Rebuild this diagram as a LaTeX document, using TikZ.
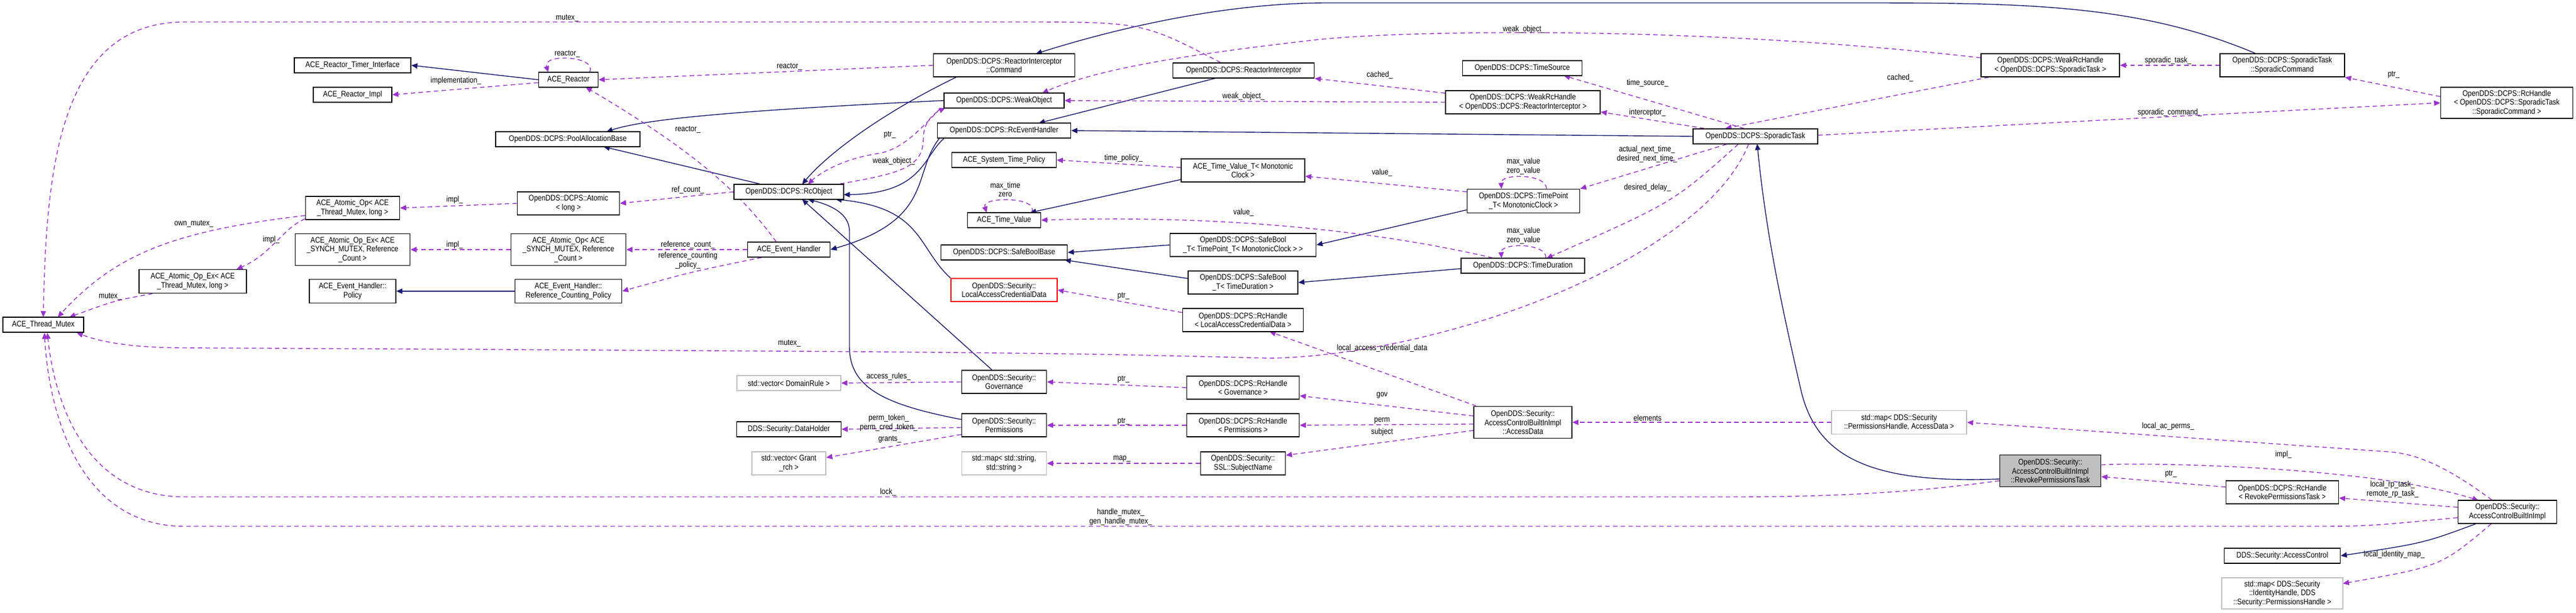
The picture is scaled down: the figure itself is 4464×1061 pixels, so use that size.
\documentclass[tikz,border=0pt]{standalone}
\usepackage{fontspec}
\setmainfont{Liberation Sans}[FakeStretch=0.85]
\usetikzlibrary{arrows.meta}
\pgfdeclarelayer{bg}
\pgfsetlayers{bg,main}
\definecolor{inh}{RGB}{25,25,112}
\definecolor{usg}{RGB}{154,50,205}
\definecolor{gbrd}{RGB}{191,191,191}
\tikzset{
  box/.style={draw=black,line width=0.45pt,fill=white,align=center,inner sep=0pt,font=\fontsize{4}{4.4}\selectfont},
  gbox/.style={box,draw=gbrd},
  lbl/.style={font=\fontsize{4}{4.4}\selectfont,align=center,inner sep=0pt},
  inhe/.style={draw=inh,line width=0.4pt,-{Triangle[length=3pt,width=2.6pt]}},
  useb/.style={draw=usg,line width=0.4pt,dash pattern=on 2.2pt off 1.6pt,-{Triangle[length=3pt,width=2.6pt]}},
}
\newcommand\NB[7][]{\node[box,#1,minimum width=#5*0.01cm,minimum height=#6*0.01cm] (#2) at (#3,#4) {#7};}
\newcommand\Sh[3]{([shift={(#1,#2)}]#3)}
\begin{document}
\begin{tikzpicture}[x=0.01cm,y=-0.01cm]
\useasboundingbox (0,0) rectangle (4464,1061);
% nodes
\NB{timer}{611}{113}{202}{26}{ACE\_Reactor\_Timer\_Interface}
\NB{rimpl}{611}{164}{136}{26}{ACE\_Reactor\_Impl}
\NB{aoptm}{611}{360}{163}{40}{ACE\_Atomic\_Op< ACE\\\_Thread\_Mutex, long >}
\NB{aoexsm}{611}{432}{199}{55}{ACE\_Atomic\_Op\_Ex< ACE\\\_SYNCH\_MUTEX, Reference\\\_Count >}
\NB{policy}{611}{504}{150}{41}{ACE\_Event\_Handler::\\Policy}
\NB{aoextm}{334}{487}{186}{41}{ACE\_Atomic\_Op\_Ex< ACE\\\_Thread\_Mutex, long >}
\NB{tmutex}{75}{562}{140}{26}{ACE\_Thread\_Mutex}
\NB{reactor}{985}{138}{103}{26}{ACE\_Reactor}
\NB{pool}{984}{241}{250}{26}{OpenDDS::DCPS::PoolAllocationBase}
\NB{atomic}{985}{352}{177}{40}{OpenDDS::DCPS::Atomic\\< long >}
\NB{rcobj}{1367}{332}{190}{26}{OpenDDS::DCPS::RcObject}
\NB{aopsm}{985}{432}{199}{55}{ACE\_Atomic\_Op< ACE\\\_SYNCH\_MUTEX, Reference\\\_Count >}
\NB{evh}{1367}{432}{143}{26}{ACE\_Event\_Handler}
\NB{rcp}{985}{504}{185}{41}{ACE\_Event\_Handler::\\Reference\_Counting\_Policy}
\NB{cmd}{1740}{113}{245}{40}{OpenDDS::DCPS::ReactorInterceptor\\::Command}
\NB{weak}{1740}{174}{208}{26}{OpenDDS::DCPS::WeakObject}
\NB{rceh}{1740}{226}{231}{26}{OpenDDS::DCPS::RcEventHandler}
\NB{stp}{1740}{277}{181}{26}{ACE\_System\_Time\_Policy}
\NB{atv}{1740}{381}{127}{26}{ACE\_Time\_Value}
\NB{sbb}{1740}{437}{219}{26}{OpenDDS::DCPS::SafeBoolBase}
\NB[draw=red]{lacd}{1740}{502}{184}{40}{OpenDDS::Security::\\LocalAccessCredentialData}
\NB{ri}{2155}{122}{245}{26}{OpenDDS::DCPS::ReactorInterceptor}
\NB{tvt}{2154}{295}{214}{40}{ACE\_Time\_Value\_T< Monotonic\\Clock >}
\NB{sbtp}{2154}{424}{253}{40}{OpenDDS::DCPS::SafeBool\\\_T< TimePoint\_T< MonotonicClock > >}
\NB{sbtd}{2154}{489}{190}{40}{OpenDDS::DCPS::SafeBool\\\_T< TimeDuration >}
\NB{rhlacd}{2154}{554}{209}{40}{OpenDDS::DCPS::RcHandle\\< LocalAccessCredentialData >}
\NB{gov}{1740}{661}{147}{40}{OpenDDS::Security::\\Governance}
\NB{perm}{1740}{736}{147}{40}{OpenDDS::Security::\\Permissions}
\NB[gbox]{mapss}{1740}{802}{147}{40}{std::map< std::string,\\std::string >}
\NB{rhgov}{2154}{671}{195}{40}{OpenDDS::DCPS::RcHandle\\< Governance >}
\NB{rhperm}{2154}{736}{195}{40}{OpenDDS::DCPS::RcHandle\\< Permissions >}
\NB{subj}{2154}{802}{147}{40}{OpenDDS::Security::\\SSL::SubjectName}
\NB[gbox]{vdr}{1367}{663}{180}{26}{std::vector< DomainRule >}
\NB{dh}{1367}{743}{181}{26}{DDS::Security::DataHolder}
\NB[gbox]{vgr}{1367}{802}{128}{40}{std::vector< Grant\\\_rch >}
\NB{ts}{2638}{118}{207}{26}{OpenDDS::DCPS::TimeSource}
\NB{wrhri}{2639}{177}{268}{40}{OpenDDS::DCPS::WeakRcHandle\\< OpenDDS::DCPS::ReactorInterceptor >}
\NB{st}{3042}{236}{216}{26}{OpenDDS::DCPS::SporadicTask}
\NB{tp}{2640}{348}{195}{41}{OpenDDS::DCPS::TimePoint\\\_T< MonotonicClock >}
\NB{td}{2639}{460}{214}{26}{OpenDDS::DCPS::TimeDuration}
\NB{ad}{2639}{731}{170}{55}{OpenDDS::Security::\\AccessControlBuiltInImpl\\::AccessData}
\NB{wrhst}{3553}{113}{240}{40}{OpenDDS::DCPS::WeakRcHandle\\< OpenDDS::DCPS::SporadicTask >}
\NB[gbox]{mappa}{3291}{731}{234}{41}{std::map< DDS::Security\\::PermissionsHandle, AccessData >}
\NB[fill=gbrd]{rpt}{3553}{815}{175}{55}{OpenDDS::Security::\\AccessControlBuiltInImpl\\::RevokePermissionsTask}
\NB{sc}{3955}{113}{216}{40}{OpenDDS::DCPS::SporadicTask\\::SporadicCommand}
\NB{rhsc}{4344}{178}{229}{54}{OpenDDS::DCPS::RcHandle\\< OpenDDS::DCPS::SporadicTask\\::SporadicCommand >}
\NB{rhrpt}{3955}{852}{195}{40}{OpenDDS::DCPS::RcHandle\\< RevokePermissionsTask >}
\NB{acbi}{4345}{886}{171}{40}{OpenDDS::Security::\\AccessControlBuiltInImpl}
\NB{ac}{3955}{962}{201}{26}{DDS::Security::AccessControl}
\NB[gbox]{mapih}{3955}{1027}{210}{54}{std::map< DDS::Security\\::IdentityHandle, DDS\\::Security::PermissionsHandle >}
\begin{pgfonlayer}{bg}
% inheritance
\draw[inhe] (reactor.west) -- (timer.east);
\draw[inhe] \Sh{45}{0}{rcobj.north west} -- (1046,254);
\draw[inhe] (weak.west) .. controls (1300,190) and (1120,205) .. (1051,228);
\draw[inhe] \Sh{40}{0}{cmd.south west} .. controls (1540,190) and (1440,260) .. (1390,319);
\draw[inhe] \Sh{12}{0}{rceh.south west} .. controls (1600,270) and (1600,335) .. (1462,337);
\draw[inhe] \Sh{4}{0}{rceh.south west} .. controls (1580,300) and (1620,380) .. (evh.east);
\draw[inhe] (lacd.north west) .. controls (1590,430) and (1600,360) .. (1448,345);
\draw[inhe] \Sh{-21}{0}{gov.north} -- (1390,345);
\draw[inhe] \Sh{0}{-10}{perm.west} .. controls (1530,700) and (1472,670) .. (1472,600) -- (1472,400) .. controls (1472,370) and (1440,355) .. (1400,345);
\draw[inhe] (st.west) -- (rceh.east);
\draw[inhe] \Sh{-50}{0}{ri.south} -- (1800,213);
\draw[inhe] \Sh{-47}{0}{sc.north} .. controls (3700,5) and (3500,5) .. (3200,5) -- (2300,5) .. controls (2100,5) and (1900,60) .. (1795,93);
\draw[inhe] \Sh{0}{14}{rpt.west} .. controls (3240,838) and (3150,790) .. (3122,680) .. controls (3085,520) and (3060,400) .. (3045,249);
\draw[inhe] \Sh{-55}{0}{acbi.south} .. controls (4200,940) .. (ac.east);
\draw[inhe] (rcp.west) -- (policy.east);
\draw[inhe] \Sh{0}{-5}{tvt.south west} -- (1785,368);
\draw[inhe] (sbtp.west) -- (sbb.east);
\draw[inhe] \Sh{0}{-7}{sbtd.west} -- (1845,450);
\draw[inhe] \Sh{0}{-6}{tp.south west} -- (sbtp.east);
\draw[inhe] \Sh{0}{5}{td.west} -- (sbtd.east);
% usage
\draw[useb] \Sh{-40}{0}{ri.north} .. controls (1980,38) .. (1760,38) -- (320,38) .. controls (100,38) and (80,300) .. (75,549);
\draw[useb] \Sh{0}{13}{aoptm.west} .. controls (300,400) and (200,440) .. (100,549);
\draw[useb] \Sh{24}{0}{aoextm.south west} .. controls (200,520) .. (120,549);
\draw[useb] \Sh{0}{-2}{aoptm.south west} .. controls (490,395) and (470,440) .. (410,466);
\draw[useb] \Sh{-12}{0}{st.south} .. controls (2950,450) and (2500,615) .. (2200,620) .. controls (1800,610) .. (320,602) .. controls (220,602) and (170,590) .. (133,576);
\draw[useb] \Sh{0}{17}{rpt.west} .. controls (3300,855) and (3150,860) .. (3000,860) -- (320,860) .. controls (150,860) and (95,700) .. (82,576);
\draw[useb] \Sh{0}{10}{acbi.west} .. controls (4100,911) .. (4000,911) -- (320,911) .. controls (140,911) and (85,720) .. (77,576);
\draw[useb] (rcobj.west) -- (atomic.east);
\draw[useb] (atomic.west) -- (aoptm.east);
\draw[useb] (aopsm.west) -- (aoexsm.east);
\draw[useb] (evh.west) -- (aopsm.east);
\draw[useb] \Sh{25}{0}{evh.south west} .. controls (1200,470) .. (rcp.east);
\draw[useb] \Sh{-22}{0}{evh.north} .. controls (1280,330) and (1200,260) .. (1015,151);
\draw[useb] (cmd.west) -- (reactor.east);
\draw[useb] \Sh{37}{0}{reactor.north} .. controls (1035,97) and (940,92) .. (950,125);
\draw[useb] \Sh{0}{5}{reactor.west} -- (rimpl.east);
\draw[useb] \Sh{-7}{0}{rcobj.north east} .. controls (1560,300) and (1600,290) .. (1600,240) .. controls (1600,210) and (1620,195) .. (1638,187);
\draw[useb] \Sh{-6}{0}{weak.south west} .. controls (1590,230) and (1560,260) .. (1520,266) .. controls (1460,275) and (1420,300) .. (1400,319);
\draw[useb] \Sh{0}{-13}{wrhst.west} .. controls (2900,40) and (2400,55) .. (2280,69) .. controls (2050,95) and (1900,120) .. (1806,161);
\draw[useb] (wrhri.west) -- (weak.east);
\draw[useb] \Sh{0}{5}{wrhri.north west} -- (ri.south east);
\draw[useb] \Sh{14}{0}{wrhst.south west} -- \Sh{-52}{0}{st.north};
\draw[useb] (sc.west) -- (wrhst.east);
\draw[useb] \Sh{0}{-2}{st.east} .. controls (3600,210) .. (rhsc.west);
\draw[useb] \Sh{0}{17}{rhsc.north west} -- (sc.south east);
\draw[useb] \Sh{-20}{0}{st.north} -- (2710,131);
\draw[useb] \Sh{20}{0}{st.north west} -- \Sh{0}{-4}{wrhri.south east};
\draw[useb] \Sh{-50}{0}{st.south} -- (tp.north east);
\draw[useb] \Sh{-30}{0}{st.south} .. controls (2900,350) .. (2680,447);
\draw[useb] \Sh{40}{0}{tp.north} .. controls (2680,300) and (2600,300) .. (2602,327);
\draw[useb] \Sh{40}{0}{td.north} .. controls (2680,420) and (2600,420) .. (2602,447);
\draw[useb] \Sh{0}{-16}{tp.west} -- \Sh{0}{10}{tvt.east};
\draw[useb] \Sh{55}{0}{td.north west} .. controls (2300,380) and (2000,375) .. (atv.east);
\draw[useb] \Sh{0}{-5}{tvt.west} -- (stp.east);
\draw[useb] \Sh{48}{0}{atv.north} .. controls (1800,340) and (1700,340) .. (1710,368);
\draw[useb] \Sh{0}{-13}{rhlacd.west} -- (lacd.east);
\draw[useb] \Sh{5}{0}{ad.north west} -- (2200,574);
\draw[useb] \Sh{0}{-11}{ad.west} -- \Sh{0}{14}{rhgov.east};
\draw[useb] \Sh{0}{3}{ad.west} -- (rhperm.east);
\draw[useb] \Sh{0}{14}{ad.west} -- \Sh{0}{-14}{subj.east};
\draw[useb] (rhgov.west) -- (gov.east);
\draw[useb] (rhperm.west) -- (perm.east);
\draw[useb] (subj.west) -- (mapss.east);
\draw[useb] (gov.west) -- (vdr.east);
\draw[useb] \Sh{0}{4}{perm.west} -- (dh.east);
\draw[useb] \Sh{0}{16}{perm.west} -- \Sh{0}{-10}{vgr.east};
\draw[useb] (mappa.west) -- (ad.east);
\draw[useb] \Sh{-27}{0}{acbi.north} .. controls (4230,800) and (4180,785) .. (4140,782) -- (mappa.east);
\draw[useb] \Sh{0}{18}{rpt.north east} .. controls (3700,800) and (4100,805) .. (4295,866);
\draw[useb] \Sh{0}{-8}{acbi.west} -- \Sh{0}{10}{rhrpt.east};
\draw[useb] \Sh{0}{-9}{rhrpt.west} -- \Sh{0}{10}{rpt.east};
\draw[useb] \Sh{-28}{0}{acbi.south} .. controls (4230,980) .. (4060,1010);
\end{pgfonlayer}
% labels
\node[lbl] (l1) at (983,31) {mutex\_};
\node[lbl] (l2) at (336,387) {own\_mutex\_};
\node[lbl] (l3) at (191,513) {mutex\_};
\node[lbl] (l4) at (470,415) {impl\_};
\node[lbl] (l5) at (1368,594) {mutex\_};
\node[lbl] (l6) at (1539,852) {lock\_};
\node[lbl] (l7) at (1942,895) {handle\_mutex\_\\gen\_handle\_mutex\_};
\node[lbl] (l8) at (1192,329) {ref\_count\_};
\node[lbl] (l9) at (788,346) {impl\_};
\node[lbl] (l10) at (788,424) {impl\_};
\node[lbl] (l11) at (1192,424) {reference\_count\_};
\node[lbl] (l12) at (1192,451) {reference\_counting\\\_policy\_};
\node[lbl] (l13) at (1192,224) {reactor\_};
\node[lbl] (l14) at (1368,115) {reactor\_};
\node[lbl] (l15) at (983,93) {reactor\_};
\node[lbl] (l16) at (790,140) {implementation\_};
\node[lbl] (l17) at (1549,279) {weak\_object\_};
\node[lbl] (l18) at (1542,233) {ptr\_};
\node[lbl] (l19) at (2641,51) {weak\_object\_};
\node[lbl] (l20) at (2155,167) {weak\_object\_};
\node[lbl] (l21) at (2391,130) {cached\_};
\node[lbl] (l22) at (3293,135) {cached\_};
\node[lbl] (l23) at (3757,105) {sporadic\_task\_};
\node[lbl] (l24) at (3760,195) {sporadic\_command\_};
\node[lbl] (l25) at (4148,129) {ptr\_};
\node[lbl] (l26) at (2855,144) {time\_source\_};
\node[lbl] (l27) at (2855,195) {interceptor\_};
\node[lbl] (l28) at (2854,267) {actual\_next\_time\_\\desired\_next\_time\_};
\node[lbl] (l29) at (2855,325) {desired\_delay\_};
\node[lbl] (l30) at (2640,288) {max\_value\\zero\_value};
\node[lbl] (l31) at (2640,408) {max\_value\\zero\_value};
\node[lbl] (l32) at (2395,299) {value\_};
\node[lbl] (l33) at (2155,368) {value\_};
\node[lbl] (l34) at (1947,274) {time\_policy\_};
\node[lbl] (l35) at (1742,328) {max\_time\\zero};
\node[lbl] (l36) at (1947,512) {ptr\_};
\node[lbl] (l37) at (2395,603) {local\_access\_credential\_data};
\node[lbl] (l38) at (2395,684) {gov};
\node[lbl] (l39) at (2395,728) {perm};
\node[lbl] (l40) at (2395,748) {subject};
\node[lbl] (l41) at (1947,656) {ptr\_};
\node[lbl] (l42) at (1947,729) {ptr\_};
\node[lbl] (l43) at (1944,794) {map\_};
\node[lbl] (l44) at (1540,652) {access\_rules\_};
\node[lbl] (l45) at (1540,732) {perm\_token\_\\perm\_cred\_token\_};
\node[lbl] (l46) at (1542,760) {grants\_};
\node[lbl] (l47) at (2855,723) {elements};
\node[lbl] (l48) at (3757,738) {local\_ac\_perms\_};
\node[lbl] (l49) at (3957,787) {impl\_};
\node[lbl] (l50) at (4146,847) {local\_rp\_task\_\\remote\_rp\_task\_};
\node[lbl] (l51) at (3762,820) {ptr\_};
\node[lbl] (l52) at (4149,960) {local\_identity\_map\_};
\end{tikzpicture}
\end{document}
